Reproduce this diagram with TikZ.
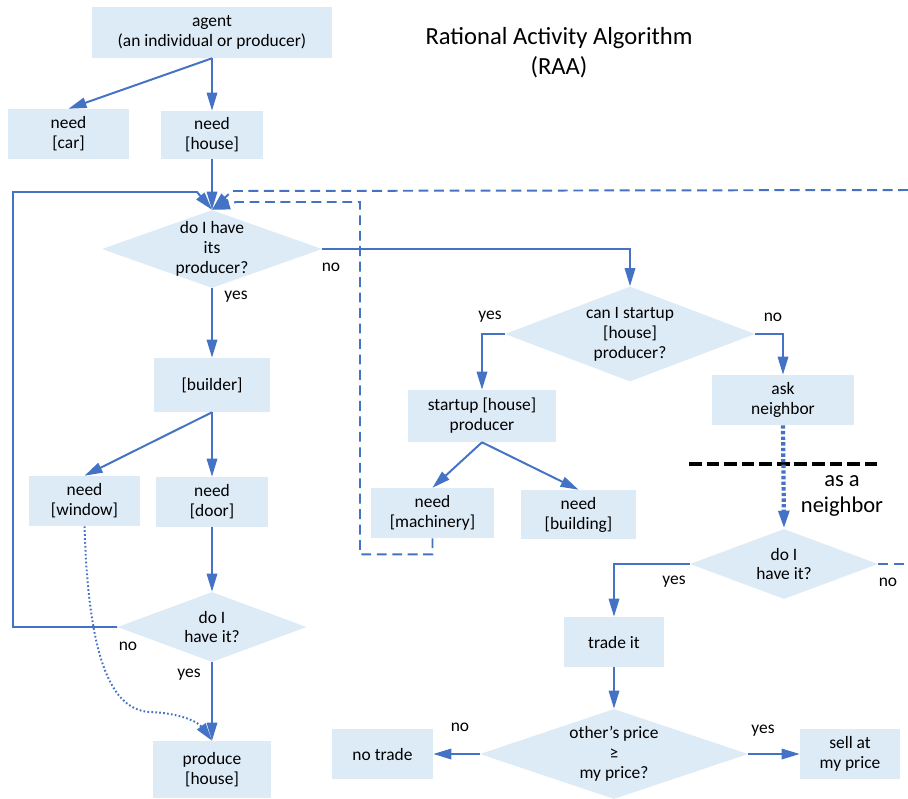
\documentclass[tikz,border=0pt]{standalone}
\usepackage{fontspec}
\setmainfont{Carlito}
\usetikzlibrary{shapes.geometric,arrows.meta}

\definecolor{boxfill}{HTML}{DDEBF7}
\definecolor{linkblue}{HTML}{4472C4}
\newcommand{\boxfont}{\fontsize{12.4}{14.2}\selectfont}
\newcommand{\bigfont}{\fontsize{17.5}{21.3}\selectfont}
\newcommand{\sidefont}{\fontsize{16}{18.5}\selectfont}

\tikzstyle{box}=[rectangle, fill=boxfill, align=center, inner sep=0pt, font=\boxfont]
\tikzstyle{decision}=[diamond, fill=boxfill, inner sep=0pt]
\tikzstyle{answer}=[inner sep=0pt, align=center, font=\boxfont]
\tikzstyle{arrow}=[line width=1.4pt, draw=linkblue, -{Triangle[length=4.5mm, width=2.6mm]}]
\tikzstyle{dasharrow}=[arrow, dash pattern=on 7pt off 4pt]
\tikzstyle{dashline}=[line width=1.4pt, draw=linkblue, dash pattern=on 7pt off 4pt]
\tikzstyle{dotarrow}=[arrow, line width=3pt, dash pattern=on 2.4pt off 1.6pt]
\tikzstyle{thindots}=[arrow, dash pattern=on 1.2pt off 1.6pt]
\tikzstyle{separator}=[line width=3pt, dash pattern=on 9pt off 3.5pt]

\begin{document}
\begin{tikzpicture}[x=0.025cm, y=-0.025cm]
      \useasboundingbox (0,0) rectangle (908,798);

      \node[font=\bigfont, align=center] (title) at (559, 53) {Rational Activity Algorithm\\(RAA)};

      % left column
      \node[box, minimum width=5.975cm, minimum height=1.275cm] (agent) at (212, 32.5) {agent\\(an individual or producer)};
      \node[box, minimum width=3.025cm, minimum height=1.25cm] (car) at (68.5, 134) {need\\{[car]}};
      \node[box, minimum width=2.525cm, minimum height=1.2cm] (house) at (212, 135) {need\\{[house]}};
      \node[decision, minimum width=5.5cm, minimum height=1.95cm,
            label={[answer]center:do I have\\its\\producer?}] (d1) at (212, 249) {};
      \node[box, minimum width=2.875cm, minimum height=1.35cm] (builder) at (212, 385) {[builder]};
      \node[box, minimum width=2.775cm, minimum height=1.25cm] (window) at (84.5, 501) {need\\{[window]}};
      \node[box, minimum width=2.8cm, minimum height=1.25cm] (door) at (212, 502) {need\\{[door]}};
      \node[decision, minimum width=4.725cm, minimum height=1.75cm,
            label={[answer]center:do I\\have it?}] (d3) at (212, 627) {};
      \node[box, minimum width=2.925cm, minimum height=1.425cm] (produce) at (212, 769.5) {produce\\{[house]}};

      % right part
      \node[decision, minimum width=6.25cm, minimum height=2.375cm,
            label={[answer]center:can I startup\\{[house]}\\producer?}] (d2) at (630, 334) {};
      \node[box, minimum width=3.7cm, minimum height=1.3cm] (startup) at (482, 416) {startup [house]\\producer};
      \node[box, minimum width=3.525cm, minimum height=1.25cm] (ask) at (783, 400) {ask\\neighbor};
      \node[box, minimum width=3.075cm, minimum height=1.25cm] (machinery) at (432.5, 513) {need\\{[machinery]}};
      \node[box, minimum width=2.875cm, minimum height=1.225cm] (building) at (578.5, 514.5) {need\\{[building]}};
      \node[font=\sidefont, align=center] (neighbor) at (842, 496) {as a\\neighbor};
      \node[decision, minimum width=4.7cm, minimum height=1.75cm,
            label={[answer]center:do I\\have it?}] (d4) at (784, 564) {};
      \node[box, minimum width=2.5cm, minimum height=1.25cm] (trade) at (614, 642) {trade it};
      \node[decision, minimum width=6.7cm, minimum height=2.25cm,
            label={[answer]center:other’s price\\≥\\my price?}] (d5) at (614, 754) {};
      \node[box, minimum width=2.525cm, minimum height=1.25cm] (notrade) at (382.5, 754) {no trade};
      \node[box, minimum width=2.5cm, minimum height=1.25cm] (sell) at (850, 754) {sell at\\my price};

      % yes / no
      \node[answer] (d1no) at (331, 267) {no};
      \node[answer] (d1yes) at (236, 297) {yes};
      \node[answer] (d2yes) at (490, 317) {yes};
      \node[answer] (d2no) at (773, 317) {no};
      \node[answer] (d3no) at (128, 646) {no};
      \node[answer] (d3yes) at (189, 675) {yes};
      \node[answer] (d4yes) at (674, 582) {yes};
      \node[answer] (d4no) at (888, 582) {no};
      \node[answer] (d5no) at (460, 727) {no};
      \node[answer] (d5yes) at (763, 731) {yes};

      \coordinate (backL) at (13, 192);
      \coordinate (backC) at (197, 192);
      \coordinate (backR) at (908, 190);
      \coordinate (backT) at (232, 191);
      \coordinate (backM) at (360, 202);
      \coordinate (backN) at (236, 202);
      \coordinate (edge) at (908, 564);
      \coordinate (sepL) at (689, 464);
      \coordinate (sepR) at (882, 464);

      \draw[arrow] (agent.south) to (car.north);
      \draw[arrow] (agent.south) to (house.north);
      \draw[arrow] (house.south) to (d1.north);
      \draw[arrow] (d1.south) to (builder.north);
      \draw[arrow] (builder.south) to (window.north);
      \draw[arrow] (builder.south) to (door.north);
      \draw[arrow] (door.south) to (d3.north);
      \draw[arrow] (d3.south) to (produce.north);
      \draw[arrow] (d3.west) -| (backL) -- (backC) -- (d1.north);
      \draw[thindots] (window.south) .. controls (88, 640) and (105, 710) .. (150, 712)
            .. controls (180, 713) and (198, 722) .. (produce.north);

      \draw[arrow] (d1.east) -| (d2.north);
      \draw[arrow] (d2.west) -| (startup.north);
      \draw[arrow] (d2.east) -| (ask.north);
      \draw[arrow] (startup.south) to (machinery.north);
      \draw[arrow] (startup.south) to (building.north);
      \draw[dasharrow] (backR) -- (backT) -- (d1.north);
      \draw[dasharrow] (machinery.south) -- ++(0, 16) -| (backM) -- (backN) -- (d1.north);
      \draw[separator] (sepL) -- (sepR);
      \draw[dotarrow] (ask.south) to (d4.north);
      \draw[arrow] (d4.west) -| (trade.north);
      \draw[dashline] (d4.east) -- (edge);
      \draw[arrow] (trade.south) to (d5.north);
      \draw[arrow] (d5.west) to (notrade.east);
      \draw[arrow] (d5.east) to (sell.west);
    \end{tikzpicture}
\end{document}
